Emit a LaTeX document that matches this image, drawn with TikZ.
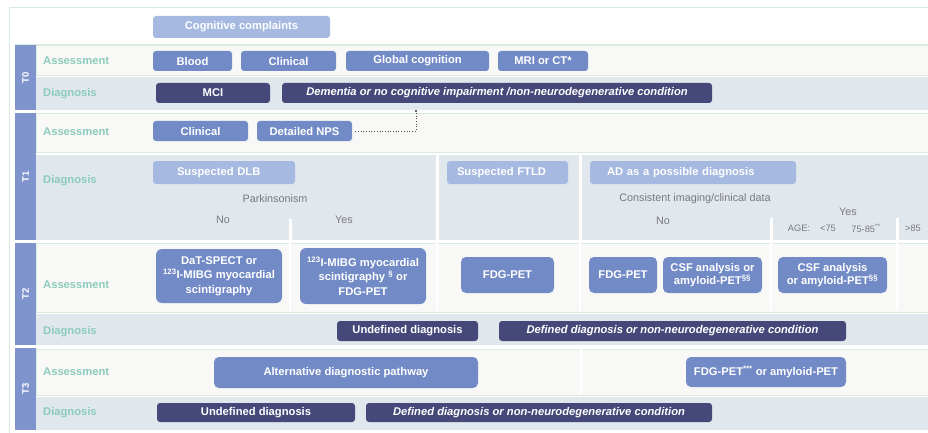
\documentclass[tikz,border=0pt]{standalone}
\usepackage{fontspec}
\setmainfont{Liberation Sans}
\definecolor{midblue}{HTML}{728AC6}
\definecolor{lightblue}{HTML}{A6B9E1}
\definecolor{navy}{HTML}{46487A}
\definecolor{stripc}{HTML}{7F94CD}
\definecolor{tealc}{HTML}{8CCBBE}
\definecolor{asbg}{HTML}{F8F9F6}
\definecolor{dgbg}{HTML}{E0E7ED}
\definecolor{rowline}{HTML}{D9EBDF}
\definecolor{graytxt}{HTML}{7A7A7A}
\begin{document}
\begin{tikzpicture}[x=1pt,y=-1pt,
  sz/.style 2 args={minimum width=#1pt, minimum height=#2pt},
  box/.style={rounded corners=3pt, inner sep=0pt, text=white, align=center,
    font=\bfseries\fontsize{11.2}{14.5}\selectfont},
  midbox/.style={box, fill=midblue},
  lightbox/.style={box, fill=lightblue},
  darkbox/.style={box, fill=navy},
  itbox/.style={darkbox, font=\bfseries\itshape\fontsize{11.2}{14.5}\selectfont},
  lbl/.style={anchor=west, inner sep=0pt, text=tealc, font=\bfseries\fontsize{11.2}{13}\selectfont},
  tlab/.style={rotate=90, inner sep=0pt, text=white, font=\bfseries\fontsize{9.5}{10}\selectfont},
  gtxt/.style={inner sep=0pt, text=graytxt, font=\fontsize{10.8}{12}\selectfont},
  stxt/.style={inner sep=0pt, text=graytxt, font=\fontsize{9.3}{10}\selectfont},
  asrow/.style={fill=asbg, draw=rowline, line width=0.8pt},
  dgrow/.style={fill=dgbg},
  sep/.style={draw=white, line width=3pt},
  sepa/.style={draw=white, line width=2pt},
  dotline/.style={draw=gray!60!black, dotted, line width=0.7pt}
]
\useasboundingbox (0,0) rectangle (928,433);
\fill[white] (0,0) rectangle (928,433);
% frame
\draw[rowline, line width=1pt] (9,433) -- (9,8) -- (930,8);
\draw[rowline, line width=0.8pt] (15,44) -- (930,44);
% rows
\path[asrow] (36,45) rectangle (932,75);
\path[dgrow] (36,77) rectangle (932,110);
\path[asrow] (36,113) rectangle (932,152);
\path[dgrow] (36,155) rectangle (932,240);
\path[asrow] (36,243) rectangle (932,312);
\path[dgrow] (36,314) rectangle (932,345);
\path[asrow] (36,349) rectangle (932,395);
\path[dgrow] (36,397) rectangle (932,430);
% strips
\fill[stripc] (15,45) rectangle (36,110);
\fill[stripc] (15,113) rectangle (36,240);
\fill[stripc] (15,243) rectangle (36,345);
\fill[stripc] (15,348) rectangle (36,430);
% separators
\path[sep] (437,155) -- (437,240);
\path[sep] (580,155) -- (580,240);
\path[sep] (290,219) -- (290,240);
\path[sep] (771,218) -- (771,240);
\path[sep] (897,218) -- (897,240);
\path[sepa] (290,243) -- (290,310);
\path[sepa] (437,243) -- (437,310);
\path[sepa] (580,243) -- (580,310);
\path[sepa] (771,243) -- (771,310);
\path[sepa] (897,243) -- (897,310);
\path[sepa] (581,349) -- (581,395);
% T labels
\node[tlab] (t0) at (25.5,77.5) {T0};
\node[tlab] (t1) at (25.5,176.5) {T1};
\node[tlab] (t2) at (25.5,294) {T2};
\node[tlab] (t3) at (25.5,389) {T3};
% row labels
\node[lbl] (a0) at (43,60.5) {Assessment};
\node[lbl] (d0) at (43,93.5) {Diagnosis};
\node[lbl] (a1) at (43,131.5) {Assessment};
\node[lbl] (d1) at (43,180.5) {Diagnosis};
\node[lbl] (a2) at (43,284.5) {Assessment};
\node[lbl] (d2) at (43,331.5) {Diagnosis};
\node[lbl] (a3) at (43,371.5) {Assessment};
\node[lbl] (d3) at (43,412.5) {Diagnosis};
% top
\node[lightbox, sz={177}{22}] (cog) at (241.5,27) {Cognitive complaints};
% T0
\node[midbox, sz={79}{20}] (blood) at (192.5,61) {Blood};
\node[midbox, sz={95}{20}] (clin0) at (288.5,61) {Clinical};
\node[midbox, sz={143}{20}] (glob) at (417.5,61) {Global cognition};
\node[midbox, sz={90}{20}] (mri) at (543,61) {MRI or CT*};
\node[darkbox, sz={114}{20}] (mci) at (213,93) {MCI};
\node[itbox, sz={430}{20}] (dem) at (497,93) {Dementia or no cognitive impairment /non-neurodegenerative condition};
% T1
\node[midbox, sz={95}{20}] (clin1) at (200.5,131) {Clinical};
\node[midbox, sz={95}{20}] (nps) at (304.5,131) {Detailed NPS};
\coordinate (dtop) at (416,111);
\draw[dotline, shorten <=3pt] (nps.east) -| (dtop);
\fill[gray!40!black] (dtop) circle (1.2pt);
\node[lightbox, sz={142}{23}, align=left, inner xsep=24pt, text width=94pt] (dlb) at (224,172.5) {Suspected DLB};
\node[lightbox, sz={121}{23}, align=left, inner xsep=10pt, text width=101pt] (ftld) at (507.5,172.5) {Suspected FTLD};
\node[lightbox, sz={206}{23}, align=left, inner xsep=17pt, text width=172pt] (ad) at (693,172.5) {AD as a possible diagnosis};
\node[gtxt] (park) at (275,199) {Parkinsonism};
\node[gtxt] (pno) at (223,220) {No};
\node[gtxt] (pyes) at (344,220) {Yes};
\node[gtxt] (cons) at (695,199) {Consistent imaging/clinical data};
\node[gtxt] (cno) at (663,221) {No};
\node[gtxt] (cyes) at (848,212) {Yes};
\node[stxt] (age) at (799,228) {AGE:};
\node[stxt] (lt75) at (828,228) {<75};
\node[stxt] (mid) at (866,228) {75-85\textsuperscript{**}};
\node[stxt] (gt85) at (913,228) {>85};
% T2
\node[midbox, sz={126}{54}, rounded corners=6pt] (dat) at (219,276) {DaT-SPECT or\\\textsuperscript{123}I-MIBG myocardial\\scintigraphy};
\node[midbox, sz={126}{56}, rounded corners=6pt] (mibg) at (363,276) {\textsuperscript{123}I-MIBG myocardial\\scintigraphy \textsuperscript{\S} or\\FDG-PET};
\node[midbox, sz={93}{36}, rounded corners=5pt] (fdg1) at (507.5,275) {FDG-PET};
\node[midbox, sz={68}{36}, rounded corners=5pt] (fdg2) at (623,275) {FDG-PET};
\node[midbox, sz={99}{36}, rounded corners=5pt, font=\bfseries\fontsize{11.2}{12.5}\selectfont] (csf1) at (712.5,275) {CSF analysis or\\amyloid-PET\textsuperscript{\S\S}};
\node[midbox, sz={109}{36}, rounded corners=5pt, font=\bfseries\fontsize{11.2}{12.5}\selectfont] (csf2) at (832.5,275) {CSF analysis\\or amyloid-PET\textsuperscript{\S\S}};
\node[darkbox, sz={141}{20}] (und2) at (407.5,331) {Undefined diagnosis};
\node[itbox, sz={347}{20}] (def2) at (672.5,331) {Defined diagnosis or non-neurodegenerative condition};
% T3
\node[midbox, sz={264}{31}, rounded corners=5pt] (alt) at (346,372.5) {Alternative diagnostic pathway};
\node[midbox, sz={160}{30}, rounded corners=5pt] (fdg3) at (766,372) {FDG-PET\textsuperscript{***} or amyloid-PET};
\node[darkbox, sz={198}{19}] (und3) at (256,412.5) {Undefined diagnosis};
\node[itbox, sz={346}{19}] (def3) at (539,412.5) {Defined diagnosis or non-neurodegenerative condition};
\end{tikzpicture}
\end{document}
